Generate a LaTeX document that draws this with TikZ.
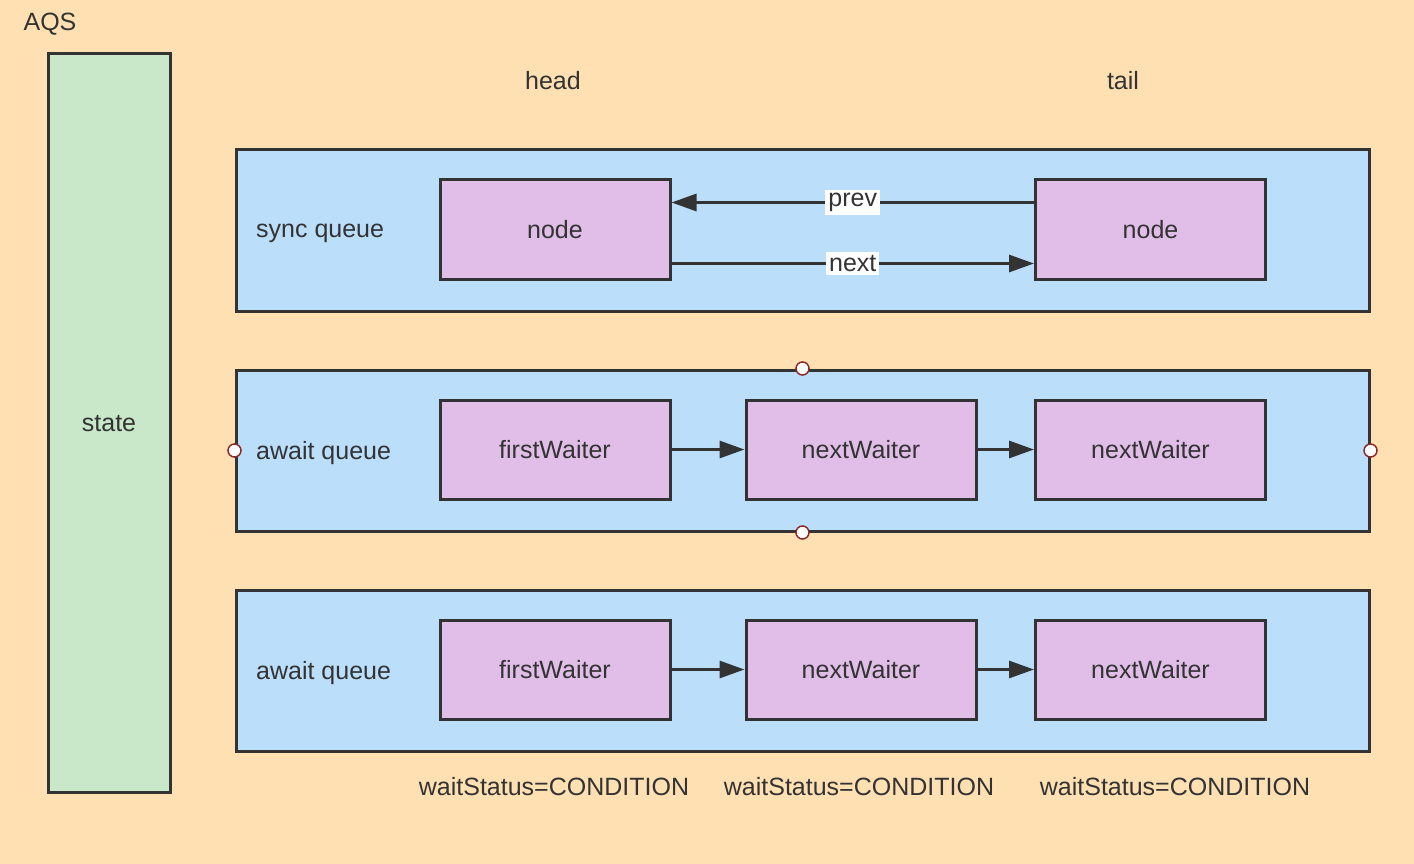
\documentclass[tikz,border=0pt]{standalone}
\usepackage{fontspec}
\setmainfont{Liberation Sans}
\usetikzlibrary{arrows.meta}
\definecolor{bg}{RGB}{254,224,178}
\definecolor{stategreen}{RGB}{201,232,201}
\definecolor{qblue}{RGB}{187,222,251}
\definecolor{npink}{RGB}{225,190,231}
\definecolor{ink}{RGB}{51,51,51}
\definecolor{dotred}{RGB}{140,40,40}
\tikzset{
  txt/.style={text=ink, font=\fontsize{25}{30}\selectfont, inner sep=0pt},
  boxline/.style={draw=ink, line width=3pt},
  qbox/.style={boxline, fill=qblue, minimum width=1133pt, minimum height=161pt, inner sep=0pt},
  nbox/.style={boxline, fill=npink, minimum width=230pt, minimum height=99pt, inner sep=0pt, text=ink, font=\fontsize{25}{30}\selectfont},
  arr/.style={draw=ink, line width=3pt, -{Triangle[length=25pt,width=17pt]}},
  lbl/.style={fill=white, text=ink, font=\fontsize{25}{30}\selectfont, inner sep=3pt},
  dot/.style={circle, draw=dotred, fill=white, line width=1.5pt, minimum size=13pt, inner sep=0pt}
}
\begin{document}
\begin{tikzpicture}[x=1pt,y=-1pt]
\fill[bg] (0,0) rectangle (1414,864);
\useasboundingbox (0,0) rectangle (1414,864);
\node[txt] (aqs) at (50,24) {AQS};
\node[boxline, fill=stategreen, minimum width=122pt, minimum height=738pt, inner sep=0pt] (statebox) at (109,423) {};
\node[txt] (state) at (109,424) {state};
\node[txt] (head) at (553,81) {head};
\node[txt] (tail) at (1123,81) {tail};
% queues
\node[qbox] (q1) at (802.5,230.5) {};
\node[qbox] (q2) at (802.5,450.5) {};
\node[qbox] (q3) at (802.5,670.5) {};
\node[txt, anchor=west] (l1) at (256,233) {sync queue};
\node[txt, anchor=west] (l2) at (256,453) {await queue};
\node[txt, anchor=west] (l3) at (256,673) {await queue};
% sync queue nodes
\node[nbox] (s1) at (555,229.5) {node};
\node[nbox] (s2) at (1150.5,229.5) {node};
\draw[arr] ([yshift=27pt]s2.west) -- node[lbl] (prev) {prev} ([yshift=27pt]s1.east);
\draw[arr] ([yshift=-34pt]s1.east) -- node[lbl] (next) {next} ([yshift=-34pt]s2.west);
% await queue 1
\node[nbox] (a1) at (555,449.5) {firstWaiter};
\node[nbox] (a2) at (861,449.5) {nextWaiter};
\node[nbox] (a3) at (1150.5,449.5) {nextWaiter};
\draw[arr] (a1) -- (a2);
\draw[arr] (a2) -- (a3);
% await queue 2
\node[nbox] (b1) at (555,669.5) {firstWaiter};
\node[nbox] (b2) at (861,669.5) {nextWaiter};
\node[nbox] (b3) at (1150.5,669.5) {nextWaiter};
\draw[arr] (b1) -- (b2);
\draw[arr] (b2) -- (b3);
% dots
\node[dot] (d1) at (q2.north) {};
\node[dot] (d2) at (q2.south) {};
\node[dot] (d3) at (q2.west) {};
\node[dot] (d4) at (q2.east) {};
% status
\node[txt] (w1) at (554,787) {waitStatus=CONDITION};
\node[txt] (w2) at (859,787) {waitStatus=CONDITION};
\node[txt] (w3) at (1175,787) {waitStatus=CONDITION};
\end{tikzpicture}
\end{document}
